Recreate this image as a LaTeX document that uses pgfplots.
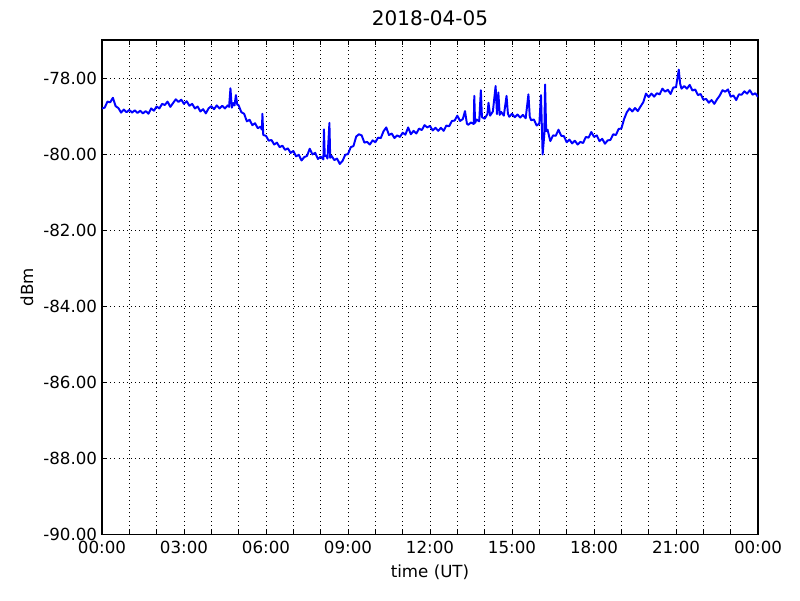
\documentclass[border=0pt]{standalone}
\usepackage{pgfplots}
\pgfplotsset{compat=1.18}
\usepackage{fontspec}
\setmainfont{DejaVu Sans}
\begin{document}
\begin{tikzpicture}
\useasboundingbox (-73.4pt,-47.5pt) rectangle (502.5pt,384.5pt);
\begin{axis}[
  at={(0,0)}, anchor=south west,
  scale only axis, width=472.3pt, height=355.7pt,
  xmin=0, xmax=24, ymin=-90, ymax=-77,
  xtick={0,1,...,24},
  xticklabels={00:00,,,03:00,,,06:00,,,09:00,,,12:00,,,15:00,,,18:00,,,21:00,,,00:00},
  ytick={-90,-88,-86,-84,-82,-80,-78},
  yticklabels={-90.00,-88.00,-86.00,-84.00,-82.00,-80.00,-78.00},
  tick align=inside, major tick length=3.5pt,
  tick style={black, line width=0.6pt},
  axis line style={black, line width=0.8pt},
  grid=major,
  major grid style={black, line width=0.6pt, dash pattern=on 0.7pt off 2.3pt},
  tick label style={font=\fontsize{12}{14}\selectfont},
  xticklabel style={yshift=-1.5pt},
  label style={font=\fontsize{12}{14}\selectfont},
  title style={font=\fontsize{14.4}{16}\selectfont, at={(axis description cs:0.5,1.0264)}, anchor=center},
  xlabel style={at={(axis description cs:0.5,-0.077)}, anchor=center},
  ylabel style={at={(axis description cs:-0.1143,0.5)}, anchor=center},
  title={2018-04-05},
  xlabel={time (UT)},
  ylabel={dBm},
]
\addplot[color={rgb,255:red,0;green,0;blue,255}, line width=1.4pt, line join=round] table {
x y
0.0 -78.80
0.1 -78.78
0.2 -78.62
0.3 -78.64
0.4 -78.52
0.5 -78.74
0.6 -78.79
0.7 -78.91
0.8 -78.83
0.9 -78.90
1.0 -78.84
1.1 -78.91
1.2 -78.85
1.3 -78.92
1.4 -78.86
1.5 -78.93
1.6 -78.87
1.7 -78.94
1.8 -78.80
1.9 -78.86
2.0 -78.75
2.1 -78.80
2.2 -78.68
2.3 -78.71
2.4 -78.62
2.5 -78.76
2.6 -78.66
2.7 -78.56
2.8 -78.63
2.9 -78.57
3.0 -78.68
3.1 -78.61
3.2 -78.73
3.3 -78.68
3.4 -78.80
3.5 -78.75
3.6 -78.88
3.7 -78.82
3.8 -78.93
3.9 -78.80
4.0 -78.74
4.1 -78.82
4.2 -78.72
4.3 -78.80
4.4 -78.73
4.5 -78.80
4.6 -78.72
4.65 -78.76
4.7 -78.27
4.75 -78.78
4.8 -78.66
4.85 -78.72
4.9 -78.45
4.95 -78.70
5.0 -78.72
5.1 -78.90
5.2 -78.94
5.3 -79.14
5.4 -79.10
5.5 -79.24
5.6 -79.19
5.7 -79.32
5.8 -79.28
5.85 -79.36
5.87 -78.94
5.9 -79.50
6.0 -79.52
6.1 -79.65
6.2 -79.63
6.3 -79.75
6.4 -79.70
6.5 -79.82
6.6 -79.78
6.7 -79.89
6.8 -79.85
6.9 -79.97
7.0 -79.92
7.1 -80.06
7.2 -80.02
7.3 -80.17
7.4 -80.08
7.5 -80.05
7.6 -79.86
7.7 -80.01
7.8 -79.97
7.9 -80.13
8.0 -80.07
8.1 -80.14
8.12 -79.35
8.15 -80.05
8.2 -80.04
8.25 -80.12
8.32 -79.18
8.35 -80.10
8.4 -80.05
8.5 -80.16
8.6 -80.12
8.7 -80.26
8.8 -80.18
8.9 -80.02
9.0 -80.00
9.1 -79.82
9.2 -79.79
9.3 -79.54
9.4 -79.48
9.5 -79.51
9.6 -79.70
9.7 -79.68
9.8 -79.75
9.9 -79.64
10.0 -79.69
10.1 -79.57
10.2 -79.58
10.3 -79.40
10.4 -79.30
10.5 -79.50
10.6 -79.46
10.7 -79.58
10.8 -79.51
10.9 -79.55
11.0 -79.44
11.1 -79.49
11.2 -79.30
11.3 -79.48
11.4 -79.39
11.5 -79.46
11.6 -79.33
11.7 -79.37
11.8 -79.24
11.9 -79.30
12.0 -79.26
12.1 -79.38
12.2 -79.31
12.3 -79.39
12.4 -79.31
12.5 -79.39
12.6 -79.25
12.7 -79.27
12.8 -79.13
12.9 -79.12
13.0 -78.99
13.1 -79.13
13.2 -79.08
13.28 -78.87
13.35 -79.20
13.4 -79.23
13.5 -79.17
13.6 -79.21
13.62 -78.47
13.65 -79.18
13.7 -79.09
13.8 -79.14
13.86 -78.32
13.9 -79.03
14.0 -79.07
14.1 -78.95
14.14 -78.65
14.2 -78.99
14.3 -78.88
14.4 -78.21
14.45 -78.95
14.5 -78.38
14.55 -78.97
14.6 -78.89
14.7 -78.99
14.8 -78.47
14.85 -78.94
14.9 -79.02
15.0 -78.94
15.1 -79.03
15.2 -78.96
15.3 -79.04
15.4 -78.97
15.5 -79.06
15.6 -78.43
15.65 -79.02
15.7 -79.11
15.8 -79.09
15.9 -79.25
16.0 -79.20
16.06 -78.45
16.12 -80.01
16.18 -79.50
16.21 -78.17
16.25 -79.40
16.3 -79.36
16.4 -79.66
16.5 -79.51
16.6 -79.52
16.7 -79.36
16.8 -79.52
16.9 -79.53
17.0 -79.69
17.1 -79.62
17.2 -79.72
17.3 -79.65
17.4 -79.75
17.5 -79.68
17.6 -79.71
17.7 -79.55
17.8 -79.57
17.9 -79.42
18.0 -79.55
18.1 -79.51
18.2 -79.66
18.3 -79.60
18.4 -79.73
18.5 -79.64
18.6 -79.63
18.7 -79.48
18.8 -79.50
18.9 -79.34
19.0 -79.33
19.1 -79.08
19.2 -78.90
19.3 -78.80
19.4 -78.88
19.5 -78.79
19.6 -78.87
19.7 -78.75
19.8 -78.64
19.9 -78.41
20.0 -78.50
20.1 -78.41
20.2 -78.49
20.3 -78.40
20.4 -78.43
20.5 -78.28
20.6 -78.36
20.7 -78.31
20.8 -78.42
20.9 -78.25
21.0 -78.24
21.1 -77.78
21.15 -78.15
21.2 -78.28
21.3 -78.21
21.4 -78.28
21.5 -78.18
21.6 -78.33
21.7 -78.30
21.8 -78.45
21.9 -78.42
22.0 -78.57
22.1 -78.55
22.2 -78.65
22.3 -78.58
22.4 -78.68
22.5 -78.56
22.6 -78.46
22.7 -78.32
22.8 -78.36
22.9 -78.30
23.0 -78.49
23.1 -78.46
23.2 -78.58
23.3 -78.43
23.4 -78.44
23.5 -78.35
23.6 -78.41
23.7 -78.32
23.8 -78.44
23.9 -78.40
24.0 -78.50
};
\end{axis}
\end{tikzpicture}
\end{document}
